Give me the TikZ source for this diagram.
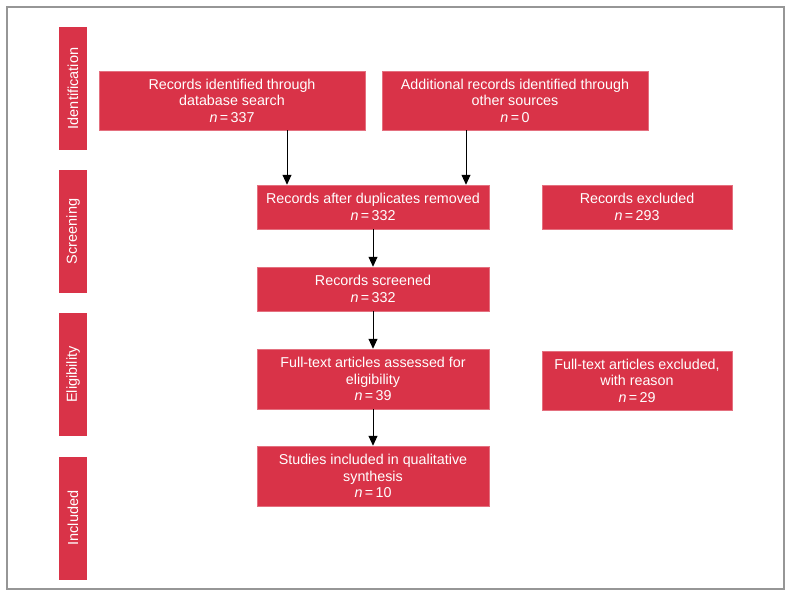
\documentclass[tikz,border=0pt]{standalone}
\usepackage{fontspec}
\setmainfont{Liberation Sans}
\usetikzlibrary{arrows.meta}
\definecolor{boxred}{RGB}{217,51,72}
\definecolor{framegray}{RGB}{150,150,150}
\tikzset{
  box/.style={fill=boxred, draw=boxred!70!white, line width=0.5pt, text=white, align=center, inner sep=0pt, font=\fontsize{14.3}{16.5}\selectfont},
  phase/.style={fill=boxred, text=white, inner sep=0pt, minimum width=28pt, minimum height=123pt, font=\fontsize{14.5}{16}\selectfont},
  arr/.style={line width=0.9pt, -{Triangle[width=9pt,length=10pt]}}
}
\newcommand{\nn}[1]{\textit{n}\,=\,#1}
\begin{document}
\begin{tikzpicture}[x=1pt,y=-1pt]
\useasboundingbox (0,0) rectangle (791,597);
\fill[white] (0,0) rectangle (791,597);
\draw[framegray, line width=1.3pt] (7,7) rectangle (784,589);

% phase labels
\node[phase] (pid) at (73,88.5) {\rotatebox{90}{Identification}};
\node[phase] (psc) at (73,231.5) {\rotatebox{90}{Screening}};
\node[phase] (pel) at (73,374.5) {\rotatebox{90}{Eligibility}};
\node[phase] (pin) at (73,518) {\rotatebox{90}{Included}};

% boxes
\node[box, minimum width=266pt, minimum height=59pt] (b1) at (232,100.5) {Records identified through\\database search\\\nn{337}};
\node[box, minimum width=266pt, minimum height=59pt] (b2) at (515,100.5) {Additional records identified through\\other sources\\\nn{0}};
\node[box, minimum width=232pt, minimum height=44pt] (dup) at (373,207) {Records after duplicates removed\\\nn{332}};
\node[box, minimum width=190pt, minimum height=44pt] (rex) at (637,207) {Records excluded\\\nn{293}};
\node[box, minimum width=232pt, minimum height=44pt] (scr) at (373,289) {Records screened\\\nn{332}};
\node[box, minimum width=232pt, minimum height=60pt] (ft) at (373,379) {Full-text articles assessed for\\eligibility\\\nn{39}};
\node[box, minimum width=190pt, minimum height=59pt] (ftx) at (637,380.5) {Full-text articles excluded,\\with reason\\\nn{29}};
\node[box, minimum width=232pt, minimum height=60pt] (inc) at (373,476) {Studies included in qualitative\\synthesis\\\nn{10}};

% arrows
\draw[arr] ([xshift=55pt]b1.south) -- ([xshift=55pt]b1.south |- dup.north);
\draw[arr] ([xshift=-49pt]b2.south) -- ([xshift=-49pt]b2.south |- dup.north);
\draw[arr] (dup) -- (scr);
\draw[arr] (scr) -- (ft);
\draw[arr] (ft) -- (inc);
\end{tikzpicture}
\end{document}
